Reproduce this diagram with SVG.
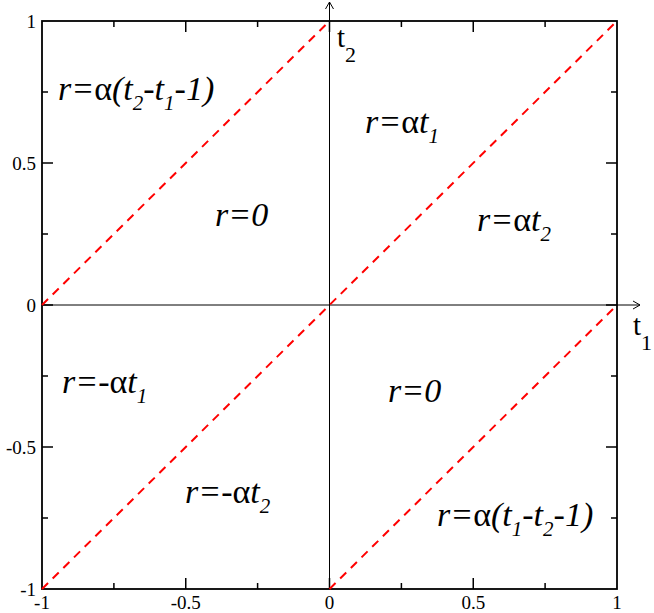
<svg xmlns="http://www.w3.org/2000/svg" width="654" height="613" viewBox="0 0 654 613">
<style>
.tick{stroke:#000;stroke-width:1.5;fill:none}
.frame{stroke:#000;stroke-width:1.8;fill:none}
.ax{stroke:#000;stroke-width:1;fill:none}
.dash{stroke:#ff0000;stroke-width:2;stroke-dasharray:8.5 6.5;fill:none}
text{font-family:'Liberation Serif','DejaVu Serif',serif}
.tl{font-size:19px;fill:#000}
.lab{font-size:34px;font-style:italic;fill:#000}
.sub{font-size:21px}
.up{font-style:normal}
.axl{font-size:29px;fill:#000}
</style>
<rect width="654" height="613" fill="#fff"/>
<g id="frame">
<rect class="frame" x="42" y="21" width="575" height="568"/>
</g>
<g id="ticks">
<path class="tick" d="M113.9,589v-6M185.75,589v-11M257.6,589v-6M401.4,589v-6M473.25,589v-11M545.1,589v-6M329.5,589v-11
M113.9,21v6M185.75,21v11M257.6,21v6M401.4,21v6M473.25,21v11M545.1,21v6M329.5,21v11
M42,92h6M42,163h11M42,234h6M42,305h11M42,376h6M42,447h11M42,518h6
M617,92h-6M617,163h-11M617,234h-6M617,305h-11M617,376h-6M617,447h-11M617,518h-6"/>
</g>
<g id="tick-labels">
<text class="tl" x="36" y="28" text-anchor="end">1</text>
<text class="tl" x="36" y="170" text-anchor="end">0.5</text>
<text class="tl" x="36" y="312" text-anchor="end">0</text>
<text class="tl" x="36" y="454" text-anchor="end">-0.5</text>
<text class="tl" x="36" y="596" text-anchor="end">-1</text>
<text class="tl" x="42" y="609" text-anchor="middle">-1</text>
<text class="tl" x="185.75" y="609" text-anchor="middle">-0.5</text>
<text class="tl" x="329.5" y="609" text-anchor="middle">0</text>
<text class="tl" x="473.25" y="609" text-anchor="middle">0.5</text>
<text class="tl" x="617" y="609" text-anchor="middle">1</text>
</g>
<g id="connectors">
<path class="ax" d="M42,305H640M633,301L640,305L633,309"/>
<path class="ax" d="M329.5,589V2M325.5,9L329.5,2L333.5,9"/>
<path class="dash" d="M42,305L329.5,21"/>
<path class="dash" d="M42,589L617,21"/>
<path class="dash" d="M329.5,589L617,305"/>
</g>
<g id="axis-t2"><text class="axl" x="337" y="47">t<tspan style="font-size:22px" dy="15">2</tspan></text></g>
<g id="axis-t1"><text class="axl" x="633" y="335">t<tspan style="font-size:22px" dy="15">1</tspan></text></g>
<g id="label-a"><text class="lab" x="58" y="100">r=<tspan class="up">α</tspan>(t<tspan class="sub" dy="10">2</tspan><tspan dy="-10">-t</tspan><tspan class="sub" dy="10">1</tspan><tspan dy="-10">-1)</tspan></text></g>
<g id="label-b"><text class="lab" x="365" y="133">r=<tspan class="up">α</tspan>t<tspan class="sub" dy="10">1</tspan></text></g>
<g id="label-c"><text class="lab" x="215" y="226">r=0</text></g>
<g id="label-d"><text class="lab" x="477" y="231">r=<tspan class="up">α</tspan>t<tspan class="sub" dy="10">2</tspan></text></g>
<g id="label-e"><text class="lab" x="62" y="393">r=-<tspan class="up">α</tspan>t<tspan class="sub" dy="10">1</tspan></text></g>
<g id="label-f"><text class="lab" x="388" y="402">r=0</text></g>
<g id="label-g"><text class="lab" x="185" y="503">r=-<tspan class="up">α</tspan>t<tspan class="sub" dy="10">2</tspan></text></g>
<g id="label-h"><text class="lab" x="437" y="526">r=<tspan class="up">α</tspan>(t<tspan class="sub" dy="10">1</tspan><tspan dy="-10">-t</tspan><tspan class="sub" dy="10">2</tspan><tspan dy="-10">-1)</tspan></text></g>
</svg>
